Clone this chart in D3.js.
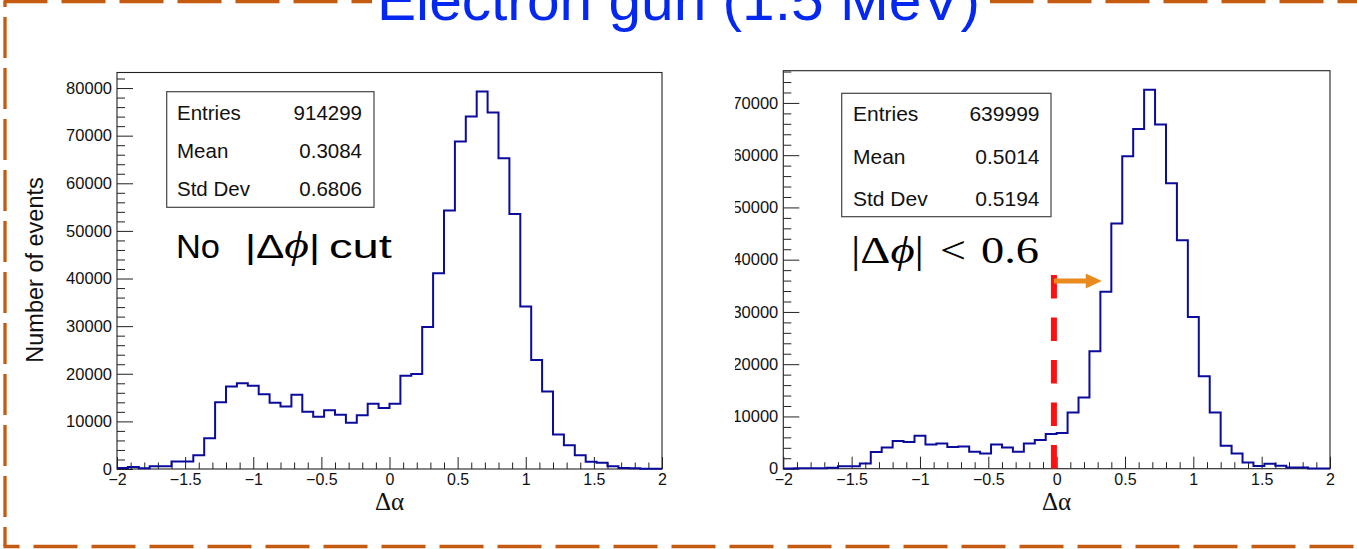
<!DOCTYPE html>
<html><head><meta charset="utf-8">
<script src="https://cdn.jsdelivr.net/npm/d3@7"></script>
<style>body{margin:0;background:#fff;} svg{display:block;}</style>
</head><body>
<svg id="c" width="1357" height="549"></svg>
<script>
// ---------------- data ----------------
const titleText = "Electron gun (1.5 MeV)";
const xDomain = [-2, 2];
const binWidth = 0.08;
const leftCounts = [200, 400, 150, 600, 600, 1600, 1600, 2900, 6450, 14000,
  17300, 18000, 17500, 15700, 13900, 13100, 15600, 12000, 10950, 12350,
  11400, 9700, 11300, 13700, 12800, 13700, 19580, 19930, 29800, 41100,
  54300, 68760, 74000, 79300, 74850, 65250, 53570, 34100, 22880, 16280,
  7230, 4980, 2880, 1540, 1330, 560, 210, 140, 70, 50];
const rightCounts = [50, 80, 100, 100, 200, 450, 450, 1000, 3200, 4080,
  5290, 5100, 6300, 4650, 4840, 4140, 4270, 3250, 2930, 4650,
  4080, 3250, 4840, 5480, 6620, 6820, 10760, 13630, 22480, 33840,
  46920, 59790, 65010, 72540, 65850, 54630, 43730, 29040, 17710, 10760,
  4390, 2930, 1210, 510, 960, 570, 250, 250, 60, 30];
const xTicks = [-2, -1.5, -1, -0.5, 0, 0.5, 1, 1.5, 2];
const xTickLabels = ["\u22122", "\u22121.5", "\u22121", "\u22120.5", "0", "0.5", "1", "1.5", "2"];
const leftYTicks = [0, 10000, 20000, 30000, 40000, 50000, 60000, 70000, 80000];
const rightYTicks = [0, 10000, 20000, 30000, 40000, 50000, 60000, 70000];
const leftStats = [["Entries", "914299"], ["Mean", "0.3084"], ["Std Dev", "0.6806"]];
const rightStats = [["Entries", "639999"], ["Mean", "0.5014"], ["Std Dev", "0.5194"]];
const yTitle = "Number of events";
const xTitle = "\u0394\u03b1";
const cutPosition = [-0.02];
const arrowEnd = [0.33];

// ---------------- drawing ----------------
const svg = d3.select("#c");
const SANS = "'Liberation Sans', Arial, Helvetica, sans-serif";
const SERIF = "'Liberation Serif', 'Times New Roman', serif";
const BORDER = "#C55A11";

svg.append("defs").append("clipPath").attr("id", "rclip")
  .append("rect").attr("x", 735).attr("y", 0).attr("width", 700).attr("height", 549);

// outer dashed border
svg.append("line").attr("x1", 5).attr("x2", 5).attr("y1", 1.5).attr("y2", 546.5)
  .attr("stroke", BORDER).attr("stroke-width", 3.3)
  .attr("stroke-dasharray", "41 10").attr("stroke-dashoffset", 35.5);
svg.append("line").attr("x1", 3.5).attr("x2", 1357).attr("y1", 1.5).attr("y2", 1.5)
  .attr("stroke", BORDER).attr("stroke-width", 3.3)
  .attr("stroke-dasharray", "44 14").attr("stroke-dashoffset", 0);
svg.append("line").attr("x1", 3.5).attr("x2", 1357).attr("y1", 546.5).attr("y2", 546.5)
  .attr("stroke", BORDER).attr("stroke-width", 3.3)
  .attr("stroke-dasharray", "44 14").attr("stroke-dashoffset", 28);

// title with white backing
svg.append("rect").attr("x", 372).attr("y", 0).attr("width", 618).attr("height", 40).attr("fill", "#fff");
svg.append("text").attr("x", 377).attr("y", 20)
  .attr("font-family", SANS).attr("font-size", 58).attr("fill", "#0528F0")
  .attr("textLength", 603).attr("lengthAdjust", "spacingAndGlyphs")
  .text(titleText);

const edges = d3.range(leftCounts.length + 1).map(i => xDomain[0] + i * binWidth);

function panel(cfg) {
  const g = svg.append("g");
  const x = d3.scaleLinear().domain(xDomain).range(cfg.xr);
  const y = d3.scaleLinear().domain([0, 1.05 * d3.max(cfg.counts)]).range(cfg.yr);

  // frame
  g.append("rect").attr("x", cfg.xr[0]).attr("y", cfg.yr[1])
    .attr("width", cfg.xr[1] - cfg.xr[0]).attr("height", cfg.yr[0] - cfg.yr[1])
    .attr("fill", "none").attr("stroke", "#222").attr("stroke-width", 1.1);

  // y axis minor
  const yMinor = d3.range(0, y.domain()[1], 2000).filter(v => v % 10000 !== 0);
  g.append("g").attr("transform", `translate(${cfg.xr[0]},0)`)
    .call(d3.axisLeft(y).tickValues(yMinor).tickSize(-8).tickFormat(""))
    .call(a => a.select(".domain").remove());
  const yWrap = g.append("g").attr("clip-path", cfg.clip ? "url(#" + cfg.clip + ")" : null);
  const yAx = yWrap.append("g").attr("transform", `translate(${cfg.xr[0]},0)`)
    .call(d3.axisLeft(y).tickValues(cfg.yTicks).tickSize(-16).tickPadding(5).tickFormat(d3.format("d")))
    .call(a => a.select(".domain").remove());
  yAx.selectAll("text").attr("font-family", SANS).attr("font-size", 16.5).attr("fill", "#111");

  // x axis
  const xMinor = d3.range(-20, 21).map(v => v / 10).filter(v => Math.abs(v * 2 - Math.round(v * 2)) > 1e-6);
  g.append("g").attr("transform", `translate(0,${cfg.yr[0]})`)
    .call(d3.axisBottom(x).tickValues(xMinor).tickSize(-6.5).tickFormat(""))
    .call(a => a.select(".domain").remove());
  const xAx = g.append("g").attr("transform", `translate(0,${cfg.yr[0]})`)
    .call(d3.axisBottom(x).tickValues(xTicks).tickSize(-12).tickPadding(4.6)
      .tickFormat((d, i) => xTickLabels[i]))
    .call(a => a.select(".domain").remove());
  xAx.selectAll("text").attr("font-family", SANS).attr("font-size", 16).attr("fill", "#111");
  g.selectAll(".tick line").attr("stroke", "#222");

  // histogram
  const pts = cfg.counts.map((c, i) => [edges[i], c]);
  pts.push([edges[edges.length - 1], cfg.counts[cfg.counts.length - 1]]);
  g.append("path").datum(pts)
    .attr("d", d3.line().x(d => x(d[0])).y(d => y(d[1])).curve(d3.curveStepAfter))
    .attr("fill", "none").attr("stroke", "#0b0b9c").attr("stroke-width", 2);

  // x title
  g.append("text").attr("x", (cfg.xr[0] + cfg.xr[1]) / 2).attr("y", 510)
    .attr("text-anchor", "middle").attr("font-family", SERIF).attr("font-size", 25)
    .attr("fill", "#111").text(xTitle);

  // stats box
  const b = cfg.box;
  g.append("rect").attr("x", b.x).attr("y", b.y).attr("width", b.w).attr("height", b.h)
    .attr("fill", "#fff").attr("stroke", "#444").attr("stroke-width", 1.2);
  cfg.stats.forEach((s, i) => {
    g.append("text").attr("x", b.tx).attr("y", b.by[i]).attr("font-family", SANS)
      .attr("font-size", b.fs).attr("fill", "#111").text(s[0]);
    g.append("text").attr("x", b.vx).attr("y", b.by[i]).attr("text-anchor", "end")
      .attr("font-family", SANS).attr("font-size", b.fs).attr("fill", "#111").text(s[1]);
  });
  return {x, y, g};
}

const L = panel({
  xr: [117, 662], yr: [469, 72.5], counts: leftCounts, yTicks: leftYTicks, stats: leftStats,
  box: {x: 166.7, y: 91.7, w: 207.3, h: 115.6, tx: 177, vx: 362, by: [120, 157.5, 195.5], fs: 20.5}
});
const R = panel({
  xr: [783.3, 1330], yr: [468.7, 70.7], counts: rightCounts, yTicks: rightYTicks, stats: rightStats,
  clip: "rclip",
  box: {x: 841.7, y: 93.3, w: 209.3, h: 123.4, tx: 853, vx: 1039.5, by: [121, 164.4, 206], fs: 21}
});

// y title
svg.append("text").attr("transform", "translate(43,270) rotate(-90)")
  .attr("text-anchor", "middle").attr("font-family", SANS).attr("font-size", 23.5)
  .attr("fill", "#111").text(yTitle);

// annotation: left  "No |Δϕ| cut"
function seg(x, y, fam, size, len, build) {
  const t = svg.append("text").attr("x", x).attr("y", y)
    .attr("font-family", fam).attr("font-size", size).attr("fill", "#000");
  if (len) t.attr("textLength", len).attr("lengthAdjust", "spacingAndGlyphs");
  build(t);
  return t;
}
seg(176, 258.3, SANS, 33, 44, t => t.text("No"));
seg(245, 258.3, SANS, 33, 75, t => {
  t.append("tspan").text("|\u0394");
  t.append("tspan").attr("font-family", SERIF).attr("font-style", "italic").attr("font-size", 37).text("\u03d5");
  t.append("tspan").text("|");
});
seg(329, 258.3, SANS, 33, 63, t => t.text("cut"));

// annotation: right "|Δϕ| < 0.6"
seg(851, 263.3, SERIF, 38, 73, t => {
  t.append("tspan").text("|\u0394");
  t.append("tspan").attr("font-style", "italic").text("\u03d5");
  t.append("tspan").text("|");
});
seg(940, 263.3, SERIF, 38, 26, t => t.text("<"));
seg(981, 263.3, SERIF, 38, 58, t => t.text("0.6"));

// red dashed cut line
const cx = R.x(cutPosition[0]);
svg.append("line").attr("x1", cx).attr("x2", cx).attr("y1", 275).attr("y2", R.y(0))
  .attr("stroke", "#ff1010").attr("stroke-width", 6).attr("stroke-dasharray", "23.5 19");

// orange arrow
const ax0 = cx, ax1 = R.x(arrowEnd[0]);
svg.append("line").attr("x1", ax0).attr("x2", ax1 - 15).attr("y1", 281).attr("y2", 281)
  .attr("stroke", "#E98A1F").attr("stroke-width", 5);
svg.append("path")
  .attr("d", `M${ax1 - 16},273.5 L${ax1},281 L${ax1 - 16},288.5 Z`)
  .attr("fill", "#E98A1F");
</script>
</body></html>
